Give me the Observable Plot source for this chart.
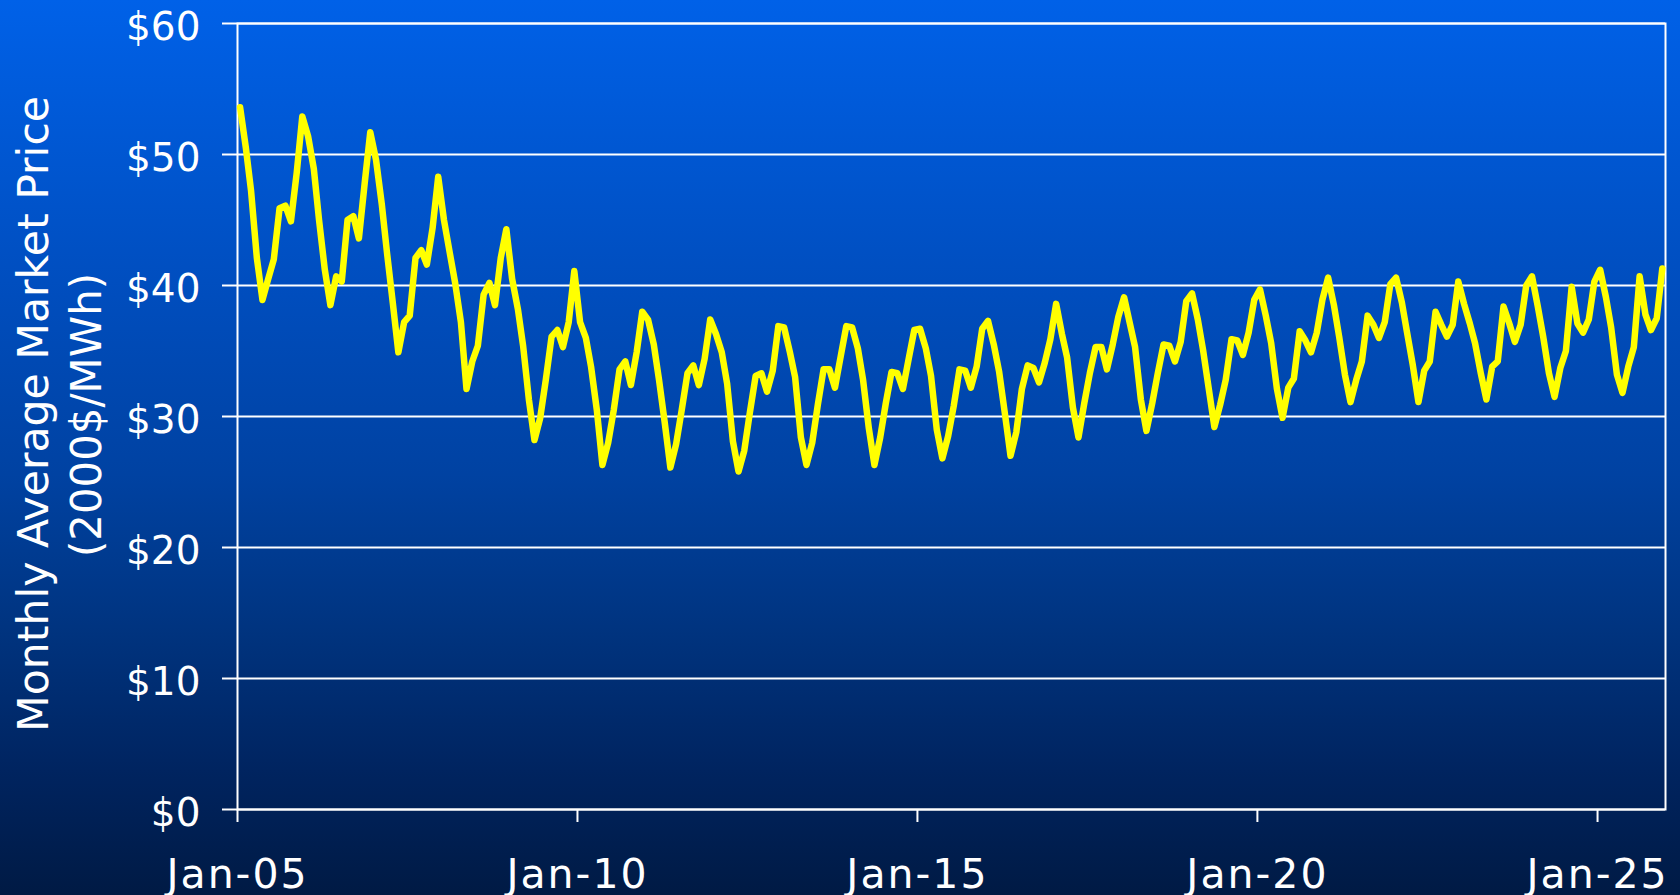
<!DOCTYPE html>
<html>
<head>
<meta charset="utf-8">
<script src="https://cdn.jsdelivr.net/npm/d3@7"></script>
<script src="https://cdn.jsdelivr.net/npm/@observablehq/plot@0.6"></script>
<style>
html, body { margin: 0; padding: 0; }
body {
  width: 1680px; height: 895px; overflow: hidden;
  background: linear-gradient(to bottom, #0061E8 0%, #005BDB 10%, #004DBD 33%, #0042A2 53%, #003480 70%, #002460 86%, #001A44 100%);
  font-family: "DejaVu Sans", Verdana, sans-serif;
}
#chart svg { display: block; }
</style>
</head>
<body>
<div id="chart"></div>
<script>
// Monthly average market price (2000$/MWh), Jan..Dec of each year
const startYear = 2005;
const p2005 = [53.6, 50.5, 47.2, 42.1, 38.9, 40.5, 42.0, 45.9, 46.1, 44.9, 48.6, 52.9];
const p2006 = [51.4, 48.9, 45.0, 41.2, 38.5, 40.7, 40.3, 45.0, 45.3, 43.6, 47.8, 51.7];
const p2007 = [49.6, 46.2, 42.5, 38.7, 34.9, 37.2, 37.7, 42.1, 42.7, 41.6, 44.4, 48.3];
const p2008 = [45.0, 42.5, 40.2, 37.2, 32.1, 34.2, 35.4, 39.3, 40.2, 38.5, 42.1, 44.3];
const p2009 = [40.5, 38.2, 35.4, 31.3, 28.2, 29.9, 32.8, 36.1, 36.6, 35.3, 37.2, 41.1];
const p2010 = [37.2, 36.0, 33.8, 30.5, 26.3, 28.0, 30.5, 33.6, 34.2, 32.4, 34.9, 38.0];
const p2011 = [37.4, 35.5, 32.8, 29.5, 26.1, 27.9, 30.5, 33.3, 33.9, 32.4, 34.4, 37.4];
const p2012 = [36.3, 34.9, 32.5, 28.1, 25.8, 27.4, 30.3, 33.1, 33.3, 31.9, 33.5, 36.9];
const p2013 = [36.8, 34.9, 33.0, 28.4, 26.3, 28.0, 30.9, 33.6, 33.6, 32.2, 34.6, 36.9];
const p2014 = [36.8, 35.2, 32.8, 29.1, 26.3, 28.4, 31.0, 33.4, 33.3, 32.1, 34.4, 36.6];
const p2015 = [36.7, 35.2, 33.1, 29.0, 26.8, 28.5, 30.8, 33.6, 33.5, 32.2, 33.8, 36.7];
const p2016 = [37.3, 35.5, 33.4, 30.2, 27.0, 28.8, 32.1, 33.9, 33.7, 32.6, 34.1, 35.9];
const p2017 = [38.6, 36.3, 34.5, 30.7, 28.4, 31.0, 33.3, 35.3, 35.3, 33.6, 35.5, 37.6];
const p2018 = [39.1, 37.1, 35.3, 31.3, 28.9, 31.0, 33.3, 35.5, 35.4, 34.2, 35.7, 38.8];
const p2019 = [39.4, 37.4, 35.1, 32.1, 29.2, 30.9, 32.8, 35.9, 35.8, 34.7, 36.4, 38.9];
const p2020 = [39.7, 37.7, 35.6, 32.1, 29.9, 32.2, 32.9, 36.5, 35.8, 34.9, 36.4, 38.9];
const p2021 = [40.6, 38.5, 36.1, 33.2, 31.1, 32.8, 34.2, 37.7, 37.0, 36.0, 37.2, 40.1];
const p2022 = [40.6, 38.7, 36.4, 33.9, 31.1, 33.5, 34.2, 38.0, 37.0, 36.1, 37.0, 40.3];
const p2023 = [38.6, 37.1, 35.6, 33.3, 31.3, 33.8, 34.2, 38.4, 37.1, 35.7, 37.0, 40.0];
const p2024 = [40.7, 38.4, 36.1, 33.3, 31.5, 33.7, 35.0, 39.9, 37.1, 36.4, 37.4, 40.3];
const p2025 = [41.2, 39.1, 36.8, 33.2, 31.8, 33.8, 35.3, 40.7, 37.8, 36.6, 37.5, 41.3];
const yearlyPrices = [p2005, p2006, p2007, p2008, p2009, p2010, p2011, p2012, p2013, p2014,
                      p2015, p2016, p2017, p2018, p2019, p2020, p2021, p2022, p2023, p2024, p2025];

const xDomain = ["2005-01-01", "2026-01-01"];
const xTickDates = ["2005-01-01", "2010-01-01", "2015-01-01", "2020-01-01", "2025-01-01"];
const xTickLabels = ["Jan-05", "Jan-10", "Jan-15", "Jan-20", "Jan-25"];
const yTicks = [0, 10, 20, 30, 40, 50, 60];
const yTickLabels = ["$0", "$10", "$20", "$30", "$40", "$50", "$60"];
const yTitleLines = ["Monthly Average Market Price", "(2000$/MWh)"];

const data = yearlyPrices.flatMap((arr, yi) =>
  arr.map((v, mi) => ({ date: new Date(Date.UTC(startYear + yi, mi, 15)), price: v })));

const xTicks = xTickDates.map(d => new Date(d + "T00:00:00Z"));
const xLabelOf = new Map(xTicks.map((d, i) => [+d, xTickLabels[i]]));
const yLabelOf = new Map(yTicks.map((d, i) => [d, yTickLabels[i]]));

const chart = Plot.plot({
  width: 1680,
  height: 895,
  marginLeft: 237,
  marginRight: 15,
  marginTop: 23,
  marginBottom: 86,
  style: { background: "transparent", color: "white", fontFamily: "DejaVu Sans, Verdana, sans-serif", overflow: "visible" },
  x: { type: "utc", domain: xDomain.map(d => new Date(d + "T00:00:00Z")) },
  y: { domain: [0, 60] },
  marks: [
    Plot.gridY(yTicks, { stroke: "white", strokeOpacity: 1, strokeWidth: 2 }),
    Plot.frame({ stroke: "white", strokeWidth: 2 }),
    Plot.axisY(yTicks, { tickSize: 15, strokeWidth: 2, tickFormat: () => "", label: null }),
    Plot.text(yTicks, {
      y: d => d, text: d => yLabelOf.get(d), frameAnchor: "left", textAnchor: "end",
      dx: -37, dy: 4, fontSize: 39, fill: "white"
    }),
    Plot.axisX(xTicks, {
      tickSize: 13, tickPadding: 36, strokeWidth: 2,
      tickFormat: d => xLabelOf.get(+d), fontSize: 41, label: null
    }),
    Plot.line(data, { x: "date", y: "price", stroke: "#FFFF00", strokeWidth: 6.5 })
  ]
});

document.getElementById("chart").appendChild(chart);

const svg = d3.select(chart);
svg.selectAll("g[aria-label='x-axis tick label'] text").style("letter-spacing", "2px");

// rotated two-line y-axis title
const titleSpecs = [
  { text: yTitleLines[0], x: 48, y: 414, len: 636 },
  { text: yTitleLines[1], x: 101, y: 415, len: 284 }
];
for (const t of titleSpecs) {
  svg.append("text")
    .attr("transform", `translate(${t.x},${t.y}) rotate(-90)`)
    .attr("text-anchor", "middle")
    .attr("fill", "white")
    .attr("font-size", 42)
    .attr("font-family", "DejaVu Sans, Verdana, sans-serif")
    .attr("textLength", t.len)
    .attr("lengthAdjust", "spacingAndGlyphs")
    .text(t.text);
}
</script>
</body>
</html>
